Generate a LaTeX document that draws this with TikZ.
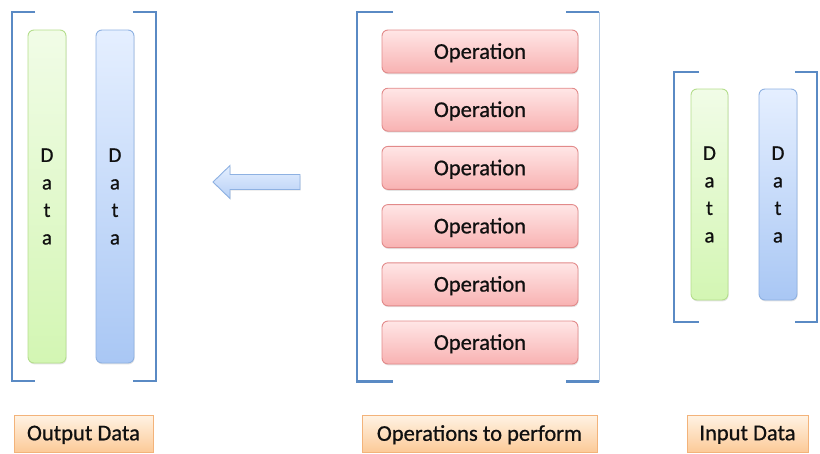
\documentclass[tikz,border=0pt]{standalone}
\usepackage{fontspec}
\setmainfont{Carlito}
\newfontfamily\labelfont[FakeBold=0.7]{Carlito}
\usetikzlibrary{shadows}

\definecolor{brk}{HTML}{5A8AC4}
\definecolor{grTop}{HTML}{F1FCE7}
\definecolor{grBot}{HTML}{D3F6B3}
\definecolor{grLine}{HTML}{B4DE8C}
\definecolor{blTop}{HTML}{E5EFFF}
\definecolor{blBot}{HTML}{A9C7F4}
\definecolor{blLine}{HTML}{8EB1E2}
\definecolor{opTop}{HTML}{FFE6E6}
\definecolor{opBot}{HTML}{F8B2B2}
\definecolor{opLine}{HTML}{E28A8A}
\definecolor{lbTop}{HTML}{FFF3E4}
\definecolor{lbBot}{HTML}{FCCA98}
\definecolor{lbLine}{HTML}{F3B37A}
\definecolor{txt}{HTML}{101010}

\tikzset{
  soft/.style={drop shadow={opacity=0.22, shadow xshift=0.6pt, shadow yshift=-1.4pt}},
  bar/.style={rectangle, rounded corners=6pt, line width=0.9pt, soft,
    minimum width=38pt, inner sep=0pt, align=center, text=txt,
    font=\labelfont\fontsize{21}{27.5}\selectfont},
  greenbar/.style={bar, draw=grLine, top color=grTop, bottom color=grBot},
  bluebar/.style={bar, draw=blLine, top color=blTop, bottom color=blBot},
  opbox/.style={rectangle, rounded corners=6pt, line width=0.9pt, soft,
    draw=opLine, top color=opTop, bottom color=opBot,
    minimum width=196pt, minimum height=43pt, inner sep=0pt, text=txt,
    text depth=1pt, font=\labelfont\fontsize{22.5}{26}\selectfont},
  tagbox/.style={rectangle, line width=0.9pt, soft,
    draw=lbLine, top color=lbTop, bottom color=lbBot,
    minimum height=37pt, inner sep=0pt, text=txt,
    text depth=1pt, font=\labelfont\fontsize{22.5}{26}\selectfont},
  bracket/.style={draw=brk, line width=2.6pt, line cap=butt, line join=miter},
  faintbracket/.style={draw=brk!45, line width=1pt}
}

\begin{document}
\begin{tikzpicture}[x=1pt,y=-1pt]
  \useasboundingbox (0,0) rectangle (820,453);

  % ---- output data group ----
  \draw[bracket] (35,12) -- (12,12) -- (12,381) -- (35,381);
  \draw[bracket] (133,12) -- (156,12) -- (156,381) -- (133,381);
  \node[greenbar, minimum height=333pt] (outA) at (47,196.5) {D\\a\\t\\a};
  \node[bluebar,  minimum height=333pt] (outB) at (115,196.5) {D\\a\\t\\a};

  % ---- operations group ----
  \draw[bracket] (393,12) -- (357,12) -- (357,381.5) -- (393,381.5);
  \draw[bracket] (566,12) -- (599,12);
  \draw[bracket] (566,381.5) -- (599,381.5);
  \draw[faintbracket] (599,12) -- (599,381.5);
  \foreach \i in {0,...,5} {
    \node[opbox] (op\i) at (480,51.5+58.2*\i) {Operation};
  }

  % ---- input data group ----
  \draw[bracket] (699,72) -- (674,72) -- (674,322) -- (699,322);
  \draw[bracket] (795,72) -- (817,72) -- (817,322) -- (795,322);
  \node[greenbar, minimum width=37pt, minimum height=211pt] (inA) at (709.5,194.5) {D\\a\\t\\a};
  \node[bluebar,  minimum height=211pt] (inB) at (778,194.5) {D\\a\\t\\a};

  % ---- flow arrow ----
  \shade[draw=blLine, line width=0.9pt, line join=miter, top color=blTop, bottom color=blBot!85,
    drop shadow={opacity=0.2, shadow xshift=0.6pt, shadow yshift=-1.2pt}]
    (300,174.5) -- (230,174.5) -- (230,165.5) -- (213,182) -- (230,198.5)
    -- (230,189.5) -- (300,189.5) -- cycle;

  % ---- captions ----
  \node[tagbox, minimum width=139pt] (capOut) at (83.5,433.5) {Output Data};
  \node[tagbox, minimum width=235pt] (capOps) at (479.5,433.5) {Operations to perform};
  \node[tagbox, minimum width=121pt] (capIn)  at (747.5,433.5) {Input Data};
\end{tikzpicture}
\end{document}
